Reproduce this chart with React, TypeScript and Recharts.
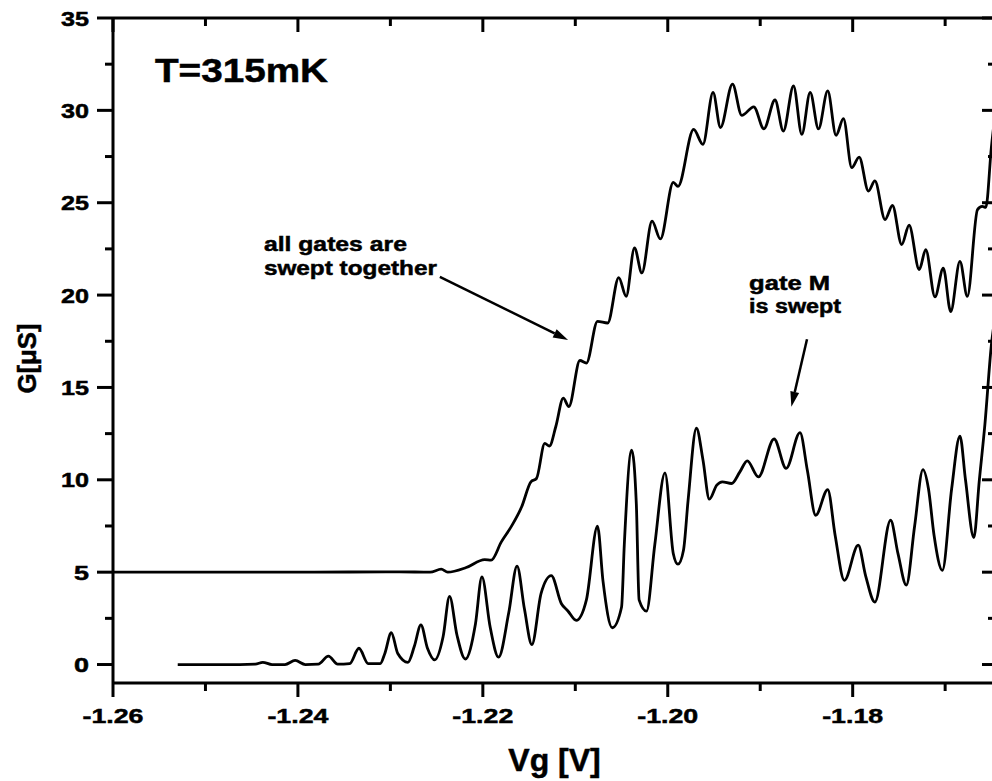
import { LineChart, Line, XAxis, YAxis, ReferenceLine, ReferenceDot } from 'recharts';

const FONT = '"Liberation Sans", Arial, Helvetica, sans-serif';

// "all gates are swept together" trace: Vg [V] and G [uS]
const allGatesV = [
  -1.2600, -1.2506, -1.2398, -1.2290, -1.2257, -1.2245, -1.2238, -1.2218, -1.2198, -1.2191,
  -1.2180, -1.2169, -1.2158, -1.2148, -1.2142, -1.2133, -1.2128, -1.2121, -1.2113, -1.2107,
  -1.2095, -1.2088, -1.2076, -1.2065, -1.2053, -1.2045, -1.2036, -1.2028, -1.2017, -1.2008,
  -1.1994, -1.1989, -1.1972, -1.1962, -1.1951, -1.1943, -1.1930, -1.1920, -1.1907, -1.1896,
  -1.1884, -1.1875, -1.1864, -1.1855, -1.1846, -1.1837, -1.1827, -1.1818, -1.1810, -1.1801,
  -1.1793, -1.1783, -1.1776, -1.1765, -1.1757, -1.1747, -1.1739, -1.1728, -1.1721, -1.1711,
  -1.1702, -1.1694, -1.1684, -1.1676, -1.1665, -1.1660, -1.1656, -1.1650, -1.1640,
];
const allGatesG = [
  5.0, 5.0, 5.0, 5.02, 5.0, 5.16, 5.0, 5.25, 5.68, 5.65,
  6.64, 7.49, 8.54, 9.89, 10.07, 11.97, 11.83, 12.9, 14.42, 13.96,
  16.46, 16.32, 18.58, 18.49, 20.95, 19.93, 22.55, 21.2, 24.0, 23.04,
  26.1, 25.88, 28.97, 28.16, 30.97, 29.07, 31.42, 29.73, 30.19, 29.0,
  30.56, 28.88, 31.32, 28.7, 30.97, 29.0, 31.05, 28.65, 29.55, 26.9,
  27.47, 25.63, 26.18, 24.09, 24.85, 22.73, 23.78, 21.38, 22.46, 19.9,
  21.46, 19.11, 21.83, 19.93, 24.63, 24.8, 24.75, 28.0, 32.0,
];

// "gate M is swept" trace
const gateMV = [
  -1.2530, -1.2463, -1.2446, -1.2438, -1.2428, -1.2414, -1.2403, -1.2392, -1.2378, -1.2367,
  -1.2357, -1.2344, -1.2334, -1.2324, -1.2311, -1.2306, -1.2299, -1.2292, -1.2281, -1.2274,
  -1.2267, -1.2260, -1.2252, -1.2243, -1.2236, -1.2228, -1.2219, -1.2208, -1.2201, -1.2192,
  -1.2183, -1.2172, -1.2163, -1.2155, -1.2147, -1.2137, -1.2126, -1.2115, -1.2108, -1.2099,
  -1.2088, -1.2076, -1.2070, -1.2060, -1.2050, -1.2047, -1.2039, -1.2034, -1.2031, -1.2023,
  -1.2014, -1.2003, -1.1994, -1.1989, -1.1983, -1.1978, -1.1969, -1.1962, -1.1955, -1.1947,
  -1.1941, -1.1931, -1.1922, -1.1914, -1.1902, -1.1885, -1.1872, -1.1857, -1.1849, -1.1840,
  -1.1827, -1.1819, -1.1809, -1.1794, -1.1786, -1.1776, -1.1759, -1.1751, -1.1742, -1.1733,
  -1.1724, -1.1718, -1.1712, -1.1703, -1.1693, -1.1684, -1.1678, -1.1669, -1.1663, -1.1657,
  -1.1650, -1.1641,
];
const gateMG = [
  0.0, 0.0, 0.02, 0.12, 0.0, 0.0, 0.22, 0.0, 0.02, 0.45,
  0.02, 0.05, 0.88, 0.05, 0.05, 0.6, 1.72, 0.6, 0.12, 1.0,
  2.15, 0.9, 0.25, 1.5, 3.69, 1.6, 0.3, 2.2, 4.74, 2.0,
  0.4, 2.8, 5.33, 3.0, 1.08, 3.85, 4.81, 3.29, 2.9, 2.39,
  3.5, 7.49, 4.5, 1.99, 3.1, 6.5, 11.61, 8.7, 3.5, 2.89,
  6.5, 10.38, 6.0, 5.43, 6.19, 8.9, 12.79, 11.1, 8.95, 9.71,
  9.89, 9.8, 10.43, 11.03, 10.16, 12.21, 10.62, 12.55, 10.5, 8.08,
  9.47, 7.0, 4.56, 6.46, 4.8, 3.38, 7.81, 6.0, 4.3, 7.5,
  10.55, 9.5, 7.0, 5.1, 9.5, 12.37, 10.0, 6.87, 10.0, 13.0,
  17.3, 20.0,
];

const xTicks = [-1.26, -1.25, -1.24, -1.23, -1.22, -1.21, -1.2, -1.19, -1.18, -1.17];
const yTicks = [0, 2.5, 5, 7.5, 10, 12.5, 15, 17.5, 20, 22.5, 25, 27.5, 30, 32.5, 35];

const allGates = allGatesV.map((v, i) => ({ v, g: allGatesG[i] }));
const gateM = gateMV.map((v, i) => ({ v, g: gateMG[i] }));

const X_DOMAIN = [-1.26, -1.1645];
const Y_DOMAIN = [-1, 35];
const axisStroke = { stroke: '#000', strokeWidth: 3 };
const heavy = { fontFamily: FONT, fontWeight: 'bold', fill: '#000', stroke: '#000', strokeWidth: 0.5 };

const isMajorX = (v: number) => Math.round(v * 100) % 2 === 0;
const isMajorY = (v: number) => v % 5 === 0;

const BottomTick = ({ x, y, payload }: any) => {
  const major = isMajorX(payload.value);
  return (
    <g>
      <line x1={x} x2={x} y1={y} y2={y + (major ? 14 : 8)} stroke="#000" strokeWidth={3} />
      {major && (
        <text x={x} y={y + 40} textAnchor="middle" fontSize={21} textLength={61}
          lengthAdjust="spacingAndGlyphs" {...heavy}>
          {payload.value.toFixed(2)}
        </text>
      )}
    </g>
  );
};

const TopTick = ({ x, y, payload }: any) => {
  const major = isMajorX(payload.value);
  return <line x1={x} x2={x} y1={y} y2={y + (major ? 14 : 8)} stroke="#000" strokeWidth={3} />;
};

const LeftTick = ({ x, y, payload }: any) => {
  const major = isMajorY(payload.value);
  const label = String(payload.value);
  return (
    <g>
      <line x1={x - (major ? 16 : 8)} x2={x} y1={y} y2={y} stroke="#000" strokeWidth={3} />
      {major && (
        <text x={x - 24} y={y + 7.5} textAnchor="end" fontSize={21}
          textLength={label.length > 1 ? 28 : 15} lengthAdjust="spacingAndGlyphs" {...heavy}>
          {label}
        </text>
      )}
    </g>
  );
};

const RightTick = ({ x, y, payload }: any) => {
  const major = isMajorY(payload.value);
  return <line x1={x - (major ? 14 : 8)} x2={x} y1={y} y2={y} stroke="#000" strokeWidth={3} />;
};

const renderYTitle = ({ viewBox }: any) => {
  const cx = viewBox.x + 27;
  const cy = viewBox.y + viewBox.height / 2 + 8;
  return (
    <text x={cx} y={cy} transform={`rotate(-90, ${cx}, ${cy})`} textAnchor="middle" dominantBaseline="central"
      fontSize={26} textLength={70} lengthAdjust="spacingAndGlyphs" {...heavy}>
      G[μS]
    </text>
  );
};

const renderXTitle = ({ viewBox }: any) => (
  <text x={viewBox.x + viewBox.width / 2} y={viewBox.y + 88} textAnchor="middle" fontSize={32} {...heavy}>
    Vg [V]
  </text>
);

// straight arrow with a filled head at the second point
const arrowShape = ({ x1, y1, x2, y2 }: any) => {
  const a = Math.atan2(y2 - y1, x2 - x1);
  const len = 15;
  const half = 4.5;
  const bx = x2 - len * Math.cos(a);
  const by = y2 - len * Math.sin(a);
  const pts = `${x2},${y2} ${bx - half * Math.sin(a)},${by + half * Math.cos(a)} ${bx + half * Math.sin(a)},${by - half * Math.cos(a)}`;
  return (
    <g>
      <line x1={x1} y1={y1} x2={bx} y2={by} stroke="#000" strokeWidth={2.5} />
      <polygon points={pts} fill="#000" />
    </g>
  );
};

const textBlock = (lines: string[], widths: number[], size: number, step: number) => ({ cx, cy }: any) => (
  <g>
    {lines.map((t, i) => (
      <text key={t} x={cx} y={cy + i * step} fontSize={size}
        textLength={widths[i]} lengthAdjust="spacingAndGlyphs" {...heavy}>
        {t}
      </text>
    ))}
  </g>
);

export default function App() {
  return (
    <div style={{ position: 'absolute', left: 0, top: 0, width: 992, height: 781, overflow: 'hidden', background: '#fff' }}>
      <LineChart width={1000} height={781} margin={{ top: 17, right: 0, bottom: 0, left: 0 }}>
        <XAxis dataKey="v" type="number" domain={X_DOMAIN} allowDataOverflow ticks={xTicks} interval={0}
          tickSize={0} tickMargin={0} tick={<BottomTick />} axisLine={axisStroke} tickLine={false}
          height={98} label={renderXTitle} />
        <XAxis xAxisId="top" orientation="top" dataKey="v" type="number" domain={X_DOMAIN} allowDataOverflow
          ticks={xTicks} interval={0} tickSize={0} tickMargin={0} tick={<TopTick />} axisLine={axisStroke}
          tickLine={false} height={1} />
        <YAxis type="number" domain={Y_DOMAIN} allowDataOverflow ticks={yTicks} interval={0}
          tickSize={0} tickMargin={0} tick={<LeftTick />} axisLine={axisStroke} tickLine={false}
          width={113} label={renderYTitle} />
        <YAxis yAxisId="right" orientation="right" type="number" domain={Y_DOMAIN} allowDataOverflow
          ticks={yTicks} interval={0} tickSize={0} tickMargin={0} tick={<RightTick />} axisLine={axisStroke}
          tickLine={false} width={4} />

        <Line data={allGates} dataKey="g" type="monotone" stroke="#000" strokeWidth={2.8} dot={false}
          activeDot={false} isAnimationActive={false} />
        <Line data={gateM} dataKey="g" type="monotone" stroke="#000" strokeWidth={2.8} dot={false}
          activeDot={false} isAnimationActive={false} />

        <ReferenceLine segment={[{ x: -1.22465, y: 20.98 }, { x: -1.21078, y: 17.57 }]} shape={arrowShape} />
        <ReferenceLine segment={[{ x: -1.18494, y: 17.61 }, { x: -1.18663, y: 13.96 }]} shape={arrowShape} />

        <ReferenceDot x={-1.25546} y={31.54} shape={textBlock(['T=315mK'], [173], 34, 0)} />
        <ReferenceDot x={-1.24368} y={22.4} shape={textBlock(['all gates are', 'swept together'], [143, 173], 21, 24)} />
        <ReferenceDot x={-1.19121} y={20.25} shape={textBlock(['gate M', 'is swept'], [81, 92], 20, 22.6)} />
      </LineChart>
    </div>
  );
}
